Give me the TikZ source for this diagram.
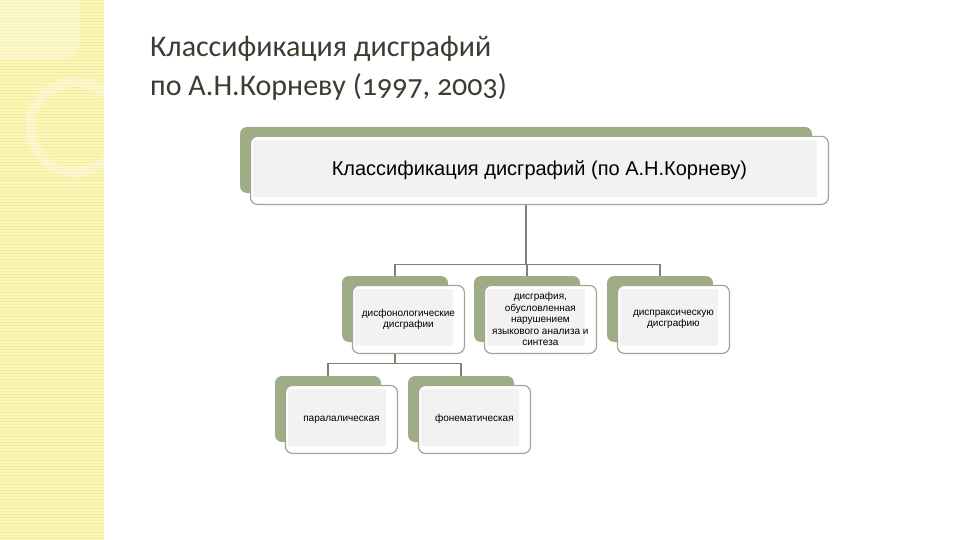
\documentclass[tikz,border=0pt]{standalone}
\usepackage{fontspec}
\setmainfont{Liberation Sans}
\newfontfamily\titlefont[Numbers=OldStyle]{Carlito}
\usetikzlibrary{positioning}
\definecolor{leaf}{RGB}{158,173,134}
\definecolor{rim}{RGB}{160,166,146}
\definecolor{wire}{RGB}{128,128,116}
\definecolor{paper}{RGB}{242,242,242}
\definecolor{straw}{RGB}{250,246,190}
\definecolor{strawline}{RGB}{243,237,150}
\definecolor{ink}{RGB}{58,62,48}
\pgfdeclarelayer{bg}
\pgfsetlayers{bg,main}
\tikzset{
  backbox/.style={fill=leaf, rounded corners=7pt, inner sep=0pt},
  frontbox/.style={fill=white, draw=rim, line width=1.2pt, rounded corners=7pt, inner sep=0pt, anchor=north west},
  link/.style={draw=wire, line width=1.4pt},
  small/.style={font=\fontsize{10}{11.5}\selectfont, align=center},
  big/.style={font=\fontsize{20}{24}\selectfont},
  title/.style={font=\titlefont\fontsize{30}{36}\selectfont, text=ink, inner sep=0pt, anchor=base west},
}
% name, centre of the green back, width, height, text style, text
\newcommand{\grbox}[6]{
  \node[backbox, minimum width=#3, minimum height=#4] (#1b) at (#2) {};
  \node[frontbox, minimum width=#3+6, minimum height=#4+2] (#1f) at ([shift={(10,9)}]#1b.north west) {};
  \fill[paper] ([shift={(3,4)}]#1f.north west) rectangle ([shift={(5,4)}]#1b.south east);
  \node[#5] (#1) at (#1f.center) {#6};
}

\begin{document}
\begin{tikzpicture}[x=1pt, y=-1pt]
\useasboundingbox (0,0) rectangle (960,540);
% left strip
\fill[straw] (0,0) rectangle (104,540);
\foreach \y in {1,4,...,538}
  \draw[strawline, line width=1pt] (0,\y) -- (104,\y);
\begin{scope}
  \clip (0,0) rectangle (104,540);
  \fill[white, opacity=.25, rounded corners=18pt] (-20,-20) rectangle (80,60);
  \draw[white, opacity=.3, line width=10pt] (75,127) circle (45);
\end{scope}

\node[title] (title1) at (150,57) {Классификация дисграфий};
\node[title] (title2) at (150,96) {по А.Н.Корневу (1997, 2003)};

\grbox{top}{526,160}{572}{66}{big}{Классификация дисграфий (по А.Н.Корневу)}
\grbox{phon}{395,309}{106}{66}{small}{дисфонологические\\дисграфии}
\grbox{lang}{527,309}{106}{66}{small}{дисграфия,\\обусловленная\\нарушением\\языкового анализа и\\синтеза}
\grbox{prax}{660,309}{106}{66}{small}{диспраксическую\\дисграфию}
\grbox{para}{328,409}{106}{66}{small}{паралалическая}
\grbox{phem}{461,409}{106}{66}{small}{фонематическая}

\begin{pgfonlayer}{bg}
\draw[link] (topb.south) -- ++(0,71) coordinate (fork1) -| (phonb.north);
\draw[link] (fork1) -| (praxb.north);
\draw[link] (langb.north) -- (langb.north |- fork1);
\draw[link] (phonb.south) -- ++(0,21) coordinate (fork2) -| (parab.north);
\draw[link] (fork2) -| (phemb.north);
\end{pgfonlayer}
\end{tikzpicture}
\end{document}
